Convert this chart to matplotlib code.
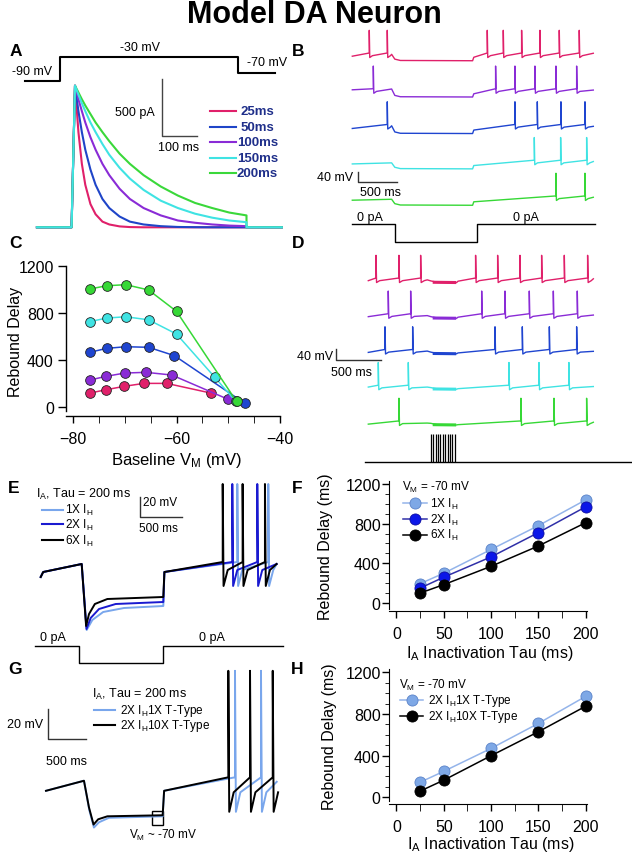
import numpy as np
import matplotlib
matplotlib.use('Agg')
import matplotlib.pyplot as plt
from matplotlib.lines import Line2D
from matplotlib.patches import Rectangle

plt.rcParams['font.family'] = ['Liberation Sans', 'DejaVu Sans']
plt.rcParams['mathtext.fontset'] = 'custom'
plt.rcParams['mathtext.rm'] = 'Liberation Sans'
plt.rcParams['mathtext.it'] = 'Liberation Sans:italic'
plt.rcParams['mathtext.bf'] = 'Liberation Sans:bold'

W, H = 632, 853

# ---------------- data ----------------
# A: voltage step protocol and I_A currents (pA) after the peak
tau_labels = ['25ms', '50ms', '100ms', '150ms', '200ms']
tau_colors_a = ['#e0206a', '#1f45c8', '#8a2bd6', '#3fe3e3', '#3ad83a']
step_t = [-146, -44, -44, 476, 476, 583]
step_mv = [-90, -90, -30, -30, -70, -70]
t_decay = [0, 10, 20, 30, 45, 60, 80, 100, 130, 160, 200, 250, 300, 350, 400, 450, 500]
I_25 = [1250, 840, 560, 375, 205, 115, 50, 25, 8, 2, 0, 0, 0, 0, 0, 0, 0]
I_50 = [1250, 1025, 840, 685, 510, 375, 250, 170, 95, 50, 25, 10, 3, 1, 0, 0, 0]
I_100 = [1250, 1130, 1025, 925, 795, 685, 560, 460, 340, 250, 170, 105, 60, 40, 25, 15, 10]
I_150 = [1250, 1170, 1095, 1025, 925, 840, 735, 640, 525, 430, 330, 235, 170, 120, 85, 60, 45]
I_200 = [1250, 1190, 1130, 1075, 1000, 925, 840, 760, 650, 560, 460, 360, 280, 215, 170, 130, 105]

# B-D colours (25, 50, 100, 150, 200 ms)
tau_colors = ['#e0206a', '#8a2bd6', '#1f45d0', '#3fe3e3', '#36d836']

# C: rebound delay vs baseline Vm
vm_25 = [-76.7, -73.6, -70.1, -66.3, -61.9, -53.4]
rd_25 = [119, 147, 176, 201, 201, 119]
vm_50 = [-76.7, -73.6, -70.0, -65.9, -60.9, -50.0]
rd_50 = [230, 261, 289, 295, 272, 65]
vm_100 = [-76.8, -73.5, -69.8, -65.4, -60.4, -46.8]
rd_100 = [465, 499, 513, 508, 437, 31]
vm_150 = [-76.8, -73.5, -69.8, -65.4, -60.0, -52.6, -48.6]
rd_150 = [726, 757, 768, 742, 621, 253, 50]
vm_200 = [-76.8, -73.5, -69.8, -65.4, -60.0, -48.4]
rd_200 = [1004, 1032, 1041, 996, 814, 47]

# B: spike times (ms) for hyperpolarizing step 496-1517 ms
b_spikes = [[214, 441, 1702, 1904, 2135, 2366, 2610, 2862],
            [265, 1807, 2051, 2303, 2568, 2829],
            [441, 2051, 2333, 2631, 2934],
            [2295, 2627, 2955],
            [2568, 2934]]
b_start = [-57, -49, -60, -59, -61]
b_pre_end = [-50, -46, -50, -55, -57.5]
b_hyper = [-74, -76, -79, -77.5, -80]
b_post = [-61, -64, -66, -65, -67]
b_end = [-46, -50, -52, -50, -50]
b_on, b_off, b_end_t = 496, 1517, 3039
b_cur_t = [0, 540, 540, 1570, 1570, 3060]
b_cur_pa = [0, 0, -50, -50, 0, 0]

# D: spike times (ms) for pulse train 650-974 ms
d_spikes = [[85, 338, 577, 1183, 1426, 1672, 1911, 2161, 2418],
            [220, 467, 1250, 1507, 1775, 2040, 2304],
            [184, 489, 1397, 1698, 1996, 2297],
            [110, 441, 1551, 1882, 2212],
            [338, 1683, 2047, 2407]]
d_start = [-55, -56, -56, -52, -57]
d_pre_end = [-52, -52, -51, -52, -53]
d_hyper = [-62, -62, -61, -60, -60]
d_post = [-57, -58, -58, -58, -59]
d_end = [-48, -50, -52, -50, -50]
d_on, d_off, d_end_t = 650, 974, 2481
pulse_t = [687, 714, 741, 768, 794, 821, 848, 874, 901, 928, 955]

# E: I_H scaling, tau = 200 ms
e_labels = ['1X I$_\\mathrm{H}$', '2X I$_\\mathrm{H}$', '6X I$_\\mathrm{H}$']
e_colors = ['#79a6ec', '#1a1ad0', '#000000']
e_spikes = [[2360, 2732], [2300, 2600], [2185, 2424, 2692]]
e_hyper_t = [[492, 552, 620, 750, 1000, 1472],
             [492, 550, 600, 700, 900, 1472],
             [492, 545, 580, 650, 800, 1472]]
e_hyper_v = [[-50, -116, -106, -98, -94, -92],
             [-50, -115, -104, -95, -90, -88],
             [-50, -112, -100, -90, -85, -83]]
e_cur_t = [-68, 463, 463, 1472, 1472, 2905]
e_cur_pa = [0, 0, -1, -1, 0, 0]

# F: rebound delay vs I_A tau at -70 mV
tau_f = [25, 50, 100, 150, 200]
f_1x = [195, 300, 540, 780, 1040]
f_2x = [150, 260, 465, 710, 970]
f_6x = [100, 185, 370, 575, 810]

# G: T-type scaling
g_labels = ['2X I$_\\mathrm{H}$1X T-Type', '2X I$_\\mathrm{H}$10X T-Type']
g_colors = ['#79a6ec', '#000000']
g_spikes = [[2464, 2803], [2377, 2660, 2956]]
g_hyper_t = [[495, 565, 625, 690, 820, 1521],
             [495, 560, 620, 680, 800, 1521]]
g_hyper_v = [[-52.3, -72, -83.5, -80, -77, -76],
             [-52.3, -70, -81.5, -78, -76, -75.3]]

# H
h_1t = [145, 250, 470, 710, 970]
h_10t = [60, 165, 400, 630, 875]

# ---------------- helpers ----------------
fig = plt.figure(figsize=(W / 100, H / 100), dpi=100)


def txt(x, y, s, **kw):
    kw.setdefault('ha', 'center')
    kw.setdefault('va', 'center')
    fig.text(x / W, 1 - y / H, s, **kw)


def fline(xs, ys, **kw):
    fig.add_artist(Line2D([x / W for x in xs], [1 - y / H for y in ys], **kw))


def scaled_ax(box, xref, yref):
    # box in pixels (left, top, right, bottom); refs: (pixel, value, pixels per unit)
    l, t, r, b = box
    ax = fig.add_axes([l / W, 1 - b / H, (r - l) / W, (b - t) / H])
    xp, xv, sx = xref
    yp, yv, sy = yref
    ax.set_xlim(xv + (l - xp) / sx, xv + (r - xp) / sx)
    ax.set_ylim(yv - (b - yp) / sy, yv + (yp - t) / sy)
    ax.axis('off')
    return ax


def build_trace(lead, spikes, thr, peak, ahp, rec, t_end, v_end, hyper, post,
                w1=6, w2=40):
    pts = list(lead)
    t_on, t_off = hyper[0][0], hyper[-1][0]

    def add(sp):
        for s in sp:
            pts.extend([(s, thr), (s, peak), (s + w1, ahp), (s + w2, rec)])
    add([s for s in spikes if s < t_on])
    pts.extend(hyper)
    pts.append(post)
    add([s for s in spikes if s > t_off])
    if t_end > pts[-1][0]:
        pts.append((t_end, v_end))
    t, v = zip(*pts)
    return np.array(t), np.array(v)


def hyper_pts(on, off, pre, lvl):
    return [(on, pre), (on + 40, lvl + 6), (on + 110, lvl + 1), (off, lvl)]


def scalebar(ax, x, y, dx, dy, color='#333333'):
    ax.plot([x, x, x + dx], [y + dy, y, y], color=color, lw=1.0, clip_on=False)


# ---------------- title and letters ----------------
txt(314, 23, 'Model DA Neuron', fontsize=22, fontweight='bold', va='baseline')
for lab, x, y in [('A', 16, 51), ('B', 298, 51), ('C', 16, 244), ('D', 298, 244),
                  ('E', 14, 489), ('F', 297, 489), ('G', 15, 669), ('H', 297, 669)]:
    txt(x, y, lab, fontsize=12.5, fontweight='bold')

# ---------------- A ----------------
axv = scaled_ax((20, 50, 290, 90), (75, 0, 0.343), (81.7, -90, 0.39))
axv.plot(step_t, step_mv, color='k', lw=1.5)
txt(32.5, 72, '-90 mV', fontsize=9)
txt(140, 48, '-30 mV', fontsize=9)
txt(267, 63, '-70 mV', fontsize=9)

axa = scaled_ax((20, 75, 290, 235), (75, 0, 0.343), (228.3, 0, 0.1133))
currents = [I_25, I_50, I_100, I_200, I_150]
cols = [tau_colors_a[0], tau_colors_a[1], tau_colors_a[2], tau_colors_a[4], tau_colors_a[3]]
for cur, c in zip(currents, cols):
    tt = [-111, -10] + t_decay + [500, 603]
    ii = [0, 0] + cur + [0, 0]
    axa.plot(tt, ii, color=c, lw=1.5)
scalebar(axa, 254.5, 808, 100, 500, color='#444444')
txt(155, 113, '500 pA', fontsize=9, ha='right')
txt(179, 148, '100 ms', fontsize=9)
for lab, c, y in zip(tau_labels, tau_colors_a, [112.3, 127.7, 143.3, 158.7, 174]):
    fline([210, 236], [y, y], color=c, lw=1.5)
    txt(257.5, y, lab, fontsize=9.5, fontweight='bold', color='#1f2f8a')

# ---------------- B ----------------
axb = scaled_ax((340, 25, 600, 215), (352.3, 0, 0.0793), (54, -45, 1 / 3.75))
for i in range(5):
    off = -134 * i
    t, v = build_trace([(0, b_start[i])], b_spikes[i], -45, 40, -62, -55, b_end_t, b_end[i],
                       hyper_pts(b_on, b_off, b_pre_end[i], b_hyper[i]), (b_off + 15, b_post[i]))
    axb.plot(t, v + off, color=tau_colors[i], lw=1.0)
scalebar(axb, 68, -530, 500, 40)
txt(353, 178, '40 mV', fontsize=9, ha='right')
txt(380, 193.3, '500 ms', fontsize=9)

axbc = scaled_ax((340, 215, 600, 250), (352.3, 0, 0.0793), (225, 0, 17.7 / 50))
axbc.plot(b_cur_t, b_cur_pa, color='k', lw=1.0)
txt(369.5, 217.7, '0 pA', fontsize=9)
txt(526, 217.7, '0 pA', fontsize=9)

# ---------------- D ----------------
axd = scaled_ax((325, 250, 600, 440), (368.3, 0, 0.0907), (279, -45, 1 / 3.75))
for i in range(5):
    off = -134 * i
    t, v = build_trace([(0, d_start[i])], d_spikes[i], -45, 40, -62, -55, d_end_t, d_end[i],
                       hyper_pts(d_on, d_off, d_pre_end[i], d_hyper[i]), (d_off + 15, d_post[i]))
    axd.plot(t, v + off, color=tau_colors[i], lw=1.0)
    axd.plot([d_on + 60, d_off - 5], [d_hyper[i] + 1 + off, d_hyper[i] + off],
             color=tau_colors[i], lw=2.2, solid_capstyle='butt')
scalebar(axd, -359, -351.4, 500, 40)
txt(333, 356.7, '40 mV', fontsize=9, ha='right')
txt(351.7, 372.7, '500 ms', fontsize=9)

axds = scaled_ax((325, 430, 632, 466), (368.3, 0, 0.0907), (462.7, 0, 27.7))
axds.plot([-36, 2904], [0, 0], color='k', lw=1.0, clip_on=False)
axds.vlines(pulse_t, 0, 1, color='k', lw=0.9)

# ---------------- C ----------------
axc = fig.add_axes([66.3 / W, 1 - 417 / H, (280 - 66.3) / W, (417 - 267) / H])
c_sets = [(vm_25, rd_25), (vm_50, rd_50), (vm_100, rd_100), (vm_150, rd_150), (vm_200, rd_200)]
for (x, y), c in zip(c_sets, tau_colors):
    axc.plot(x, y, '-o', color=c, lw=1.1, ms=7, mfc=c, mec='#222222', mew=0.6, clip_on=False)
axc.set_xlim(-81.3, -40)
axc.set_ylim(-76.6, 1200)
axc.spines[['top', 'right']].set_visible(False)
axc.spines['left'].set_bounds(-30, 1200)
axc.set_xticks([-80, -60, -40])
axc.set_xticks(np.arange(-80, -39, 5), minor=True)
axc.set_yticks([0, 400, 800, 1200])
axc.tick_params(axis='both', labelsize=11.5, direction='out', width=1.0)
axc.tick_params(axis='x', which='both', length=5, pad=6)
axc.tick_params(axis='y', length=6, pad=3)
axc.set_ylabel('Rebound Delay', fontsize=11.5)
axc.yaxis.set_label_coords(-0.201, 0.502)
axc.set_xlabel('Baseline V$_\\mathrm{M}$ (mV)', fontsize=12)
axc.xaxis.set_label_coords(0.517, -0.227)
for sp in axc.spines.values():
    sp.set_linewidth(1.0)


# ---------------- F and H ----------------
def delay_axes(box, ylim, bound):
    l, t, r, b = box
    ax = fig.add_axes([l / W, 1 - b / H, (r - l) / W, (b - t) / H])
    ax.set_xlim((l - 396.5) / 0.947, 201)
    ax.set_ylim(*ylim)
    ax.spines[['top', 'right']].set_visible(False)
    ax.spines['left'].set_bounds(bound, ylim[1])
    ax.set_xticks(np.arange(0, 201, 50))
    ax.set_xticks(np.arange(0, 201, 25), minor=True)
    ax.set_yticks([0, 400, 800, 1200])
    ax.set_yticks(np.arange(0, 1201, 100), minor=True)
    ax.tick_params(axis='both', labelsize=11.5, direction='out', width=1.0)
    ax.tick_params(axis='x', which='both', length=5, pad=6)
    ax.tick_params(axis='y', which='major', length=5, pad=1)
    ax.tick_params(axis='y', which='minor', length=3)
    ax.set_ylabel('Rebound Delay (ms)', fontsize=11.5)
    ax.set_xlabel('I$_\\mathrm{A}$ Inactivation Tau (ms)', fontsize=11.5)
    return ax


axf = delay_axes((389, 481.7, 586.7, 611.7), (-78, 1233), -60)
axf.yaxis.set_label_coords(-0.282, 0.5)
axf.xaxis.set_label_coords(0.511, -0.251)
f_styles = [(f_1x, '#94b4ea', '#7ea8e6', '#5a82c8'),
            (f_2x, '#3030a8', '#0b17e8', '#1010a0'),
            (f_6x, '#000000', '#000000', '#000000')]
for y, lc, fc, ec in f_styles:
    axf.plot(tau_f, y, '-o', color=lc, lw=1.1, ms=8, mfc=fc, mec=ec, mew=0.6, clip_on=False)
txt(401.7, 487.7, 'V$_\\mathrm{M}$ = -70 mV', fontsize=8.5, ha='left')
for lab, (y_, lc, fc, ec), yy in zip(e_labels, f_styles, [504, 520, 535.7]):
    fline([403, 427], [yy, yy], color=lc, lw=1.1)
    fline([415], [yy], marker='o', ms=8, mfc=fc, mec=ec, mew=0.6, lw=0)
    txt(430, yy, lab, fontsize=8.5, ha='left')

axh = delay_axes((389, 670, 586.7, 805), (-64, 1232), -40)
axh.yaxis.set_label_coords(-0.265, 0.506)
axh.xaxis.set_label_coords(0.516, -0.222)
h_styles = [(h_1t, '#94b4ea', '#7ea8e6', '#5a82c8'),
            (h_10t, '#000000', '#000000', '#000000')]
for y, lc, fc, ec in h_styles:
    axh.plot(tau_f, y, '-o', color=lc, lw=1.1, ms=8, mfc=fc, mec=ec, mew=0.6, clip_on=False)
txt(399, 685, 'V$_\\mathrm{M}$ = -70 mV', fontsize=8.5, ha='left')
for lab, (y_, lc, fc, ec), yy in zip(g_labels, h_styles, [700.7, 716.7]):
    fline([400, 423.3], [yy, yy], color=lc, lw=1.1)
    fline([411.7], [yy], marker='o', ms=8, mfc=fc, mec=ec, mew=0.6, lw=0)
    txt(428.3, yy, lab, fontsize=8.5, ha='left')

# ---------------- E ----------------
axe = scaled_ax((30, 480, 290, 640), (40.7, 0, 0.0833), (565, -50, 1.0))
for i in range(3):
    hyp = list(zip(e_hyper_t[i], e_hyper_v[i]))
    t, v = build_trace([(0, -63), (30, -58)], e_spikes[i], -48, 30, -72, -56, 2832, -50,
                       hyp, (1485, -58), w1=10, w2=60)
    axe.plot(t, v, color=e_colors[i], lw=1.4)
scalebar(axe, 1192, -2.7, 500, 20)
txt(143, 503.3, '20 mV', fontsize=8.5, ha='left')
txt(158.3, 529.3, '500 ms', fontsize=8.5)
txt(36, 494.3, 'I$_\\mathrm{A}$, Tau = 200 ms', fontsize=9, ha='left')
for lab, c, yy in zip(e_labels, e_colors, [510.7, 525, 541]):
    fline([41.7, 63.3], [yy, yy], color=c, lw=1.5)
    txt(65, yy, lab, fontsize=8.5, ha='left')

axec = scaled_ax((30, 640, 290, 670), (40.7, 0, 0.0833), (646.7, 0, 17.6))
axec.plot(e_cur_t, e_cur_pa, color='k', lw=1.0)
txt(52.7, 638.3, '0 pA', fontsize=9)
txt(212, 638.3, '0 pA', fontsize=9)

# ---------------- G ----------------
axg = scaled_ax((30, 665, 290, 845), (46, 0, 0.0767), (778.3, -50, 1.5))
for i in range(2):
    hyp = list(zip(g_hyper_t[i], g_hyper_v[i]))
    t, v = build_trace([(0, -59)], g_spikes[i], -50, 21, -73, -60, 3008, -53,
                       hyp, (1540, -59), w1=12, w2=70)
    axg.plot(t, v, color=g_colors[i], lw=1.4)
scalebar(axg, 22, -24.5, 500, 20)
axg.add_patch(Rectangle((1378, -81.6), 151, 8.9, fill=False, ec='k', lw=1.0))
txt(43, 725, '20 mV', fontsize=9, ha='right')
txt(66.7, 761.7, '500 ms', fontsize=9)
txt(163, 835, 'V$_\\mathrm{M}$ ~ -70 mV', fontsize=8.5)
txt(91.7, 694.3, 'I$_\\mathrm{A}$, Tau = 200 ms', fontsize=9, ha='left')
for lab, c, yy in zip(g_labels, g_colors, [711, 726]):
    fline([94.3, 115], [yy, yy], color=c, lw=1.5)
    txt(120, yy, lab, fontsize=8.5, ha='left')

fig.savefig('out.png', dpi=100)
